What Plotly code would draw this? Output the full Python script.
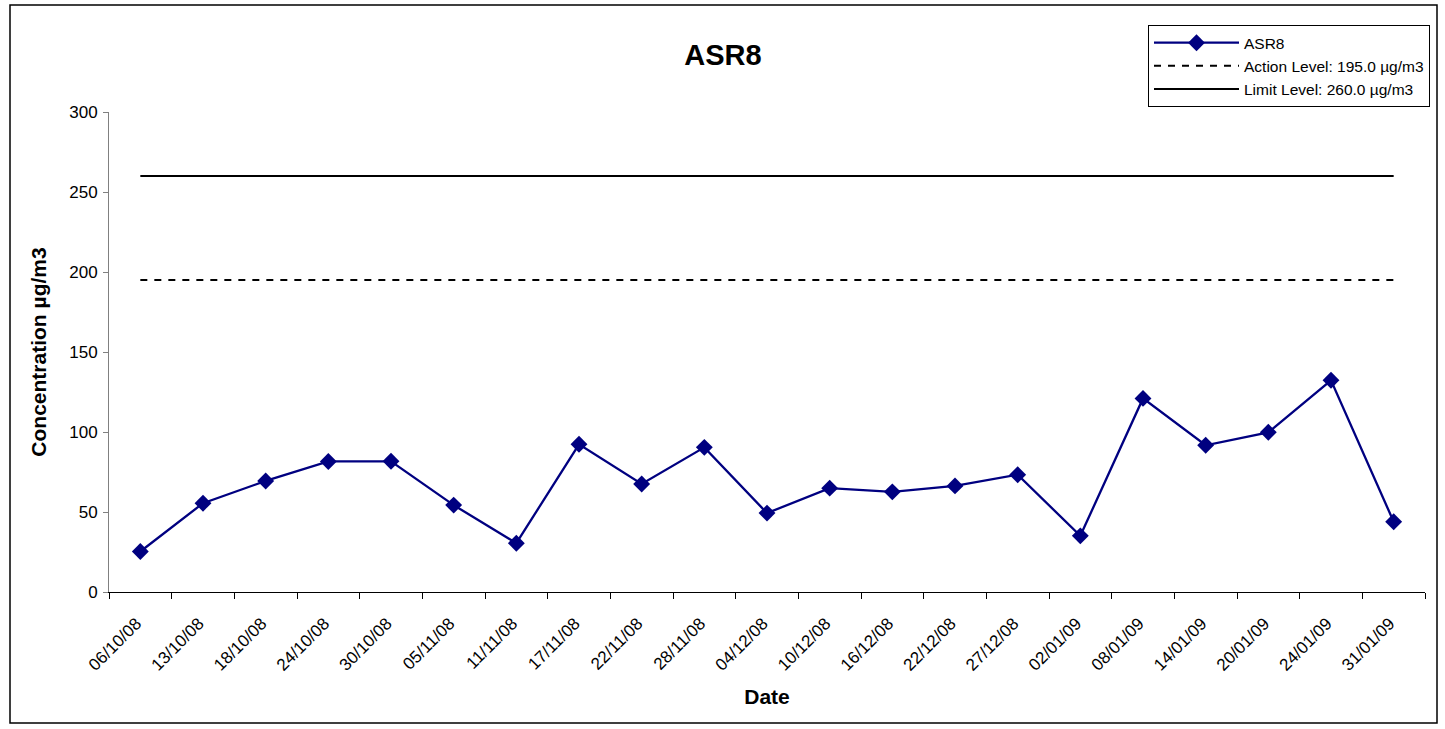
import plotly.graph_objects as go

dates = ["06/10/08", "13/10/08", "18/10/08", "24/10/08", "30/10/08", "05/11/08", "11/11/08",
         "17/11/08", "22/11/08", "28/11/08", "04/12/08", "10/12/08", "16/12/08", "22/12/08",
         "27/12/08", "02/01/09", "08/01/09", "14/01/09", "20/01/09", "24/01/09", "31/01/09"]
asr8 = [25.3, 55.5, 69.4, 81.6, 81.7, 54.3, 30.5, 92.3, 67.5, 90.4, 49.3, 64.9, 62.6, 66.3,
        73.3, 35.1, 121.0, 91.7, 99.8, 132.3, 43.9]
action_level = 195.0
limit_level = 260.0

FONT = "Liberation Sans, Arial, sans-serif"

fig = go.Figure()
fig.add_trace(go.Scatter(
    x=dates, y=asr8, name="ASR8", mode="lines+markers",
    line=dict(color="#000080", width=2.3),
    marker=dict(symbol="diamond", size=13, color="#000080"),
))
fig.add_trace(go.Scatter(
    x=dates, y=[action_level] * len(dates), name="Action Level: 195.0 µg/m3", mode="lines",
    line=dict(color="black", width=2, dash="7px,7px"),
))
fig.add_trace(go.Scatter(
    x=dates, y=[limit_level] * len(dates), name="Limit Level: 260.0 µg/m3", mode="lines",
    line=dict(color="black", width=2),
))

fig.update_layout(
    width=1445, height=729,
    margin=dict(l=109, r=20, t=112, b=137),
    paper_bgcolor="white", plot_bgcolor="white",
    font=dict(family=FONT, color="black", size=17),
    title=dict(text="<b>ASR8</b>", x=723 / 1445, xanchor="center", y=1 - 55 / 729,
               yanchor="middle", font=dict(size=29, family=FONT)),
    showlegend=True,
    legend=dict(x=1.0038, xanchor="right", y=1.181, yanchor="top",
                bordercolor="black", borderwidth=1, bgcolor="white",
                font=dict(size=15.5, family=FONT), tracegroupgap=0, itemwidth=85),
    xaxis=dict(
        type="category", range=[-0.5, len(dates) - 0.5],
        tickson="boundaries", ticks="outside", ticklen=6, tickcolor="black",
        showline=True, linecolor="black", linewidth=1, showgrid=False,
        tickangle=-45, tickfont=dict(size=17, family=FONT),
        ticklabelstandoff=14, ticklabelshift=-4,
        title=dict(text="<b>Date</b>", font=dict(size=21, family=FONT), standoff=15),
    ),
    yaxis=dict(
        range=[0, 300], dtick=50, ticks="outside", ticklen=5, tickcolor="gray",
        showline=True, linecolor="gray", linewidth=1, showgrid=False, zeroline=False,
        tickfont=dict(size=17, family=FONT), ticklabelstandoff=2,
        title=dict(text="<b>Concentration µg/m3</b>", font=dict(size=21, family=FONT), standoff=16),
    ),
    shapes=[dict(type="rect", xref="paper", yref="paper",
                 x0=(10 - 109) / 1316, x1=(1437 - 109) / 1316,
                 y0=(592 - 723) / 480, y1=(592 - 5) / 480,
                 line=dict(color="black", width=1.5), layer="below")],
)

fig.write_html("out.html", config={"displayModeBar": False},
               post_script="document.body.style.margin='0';")
